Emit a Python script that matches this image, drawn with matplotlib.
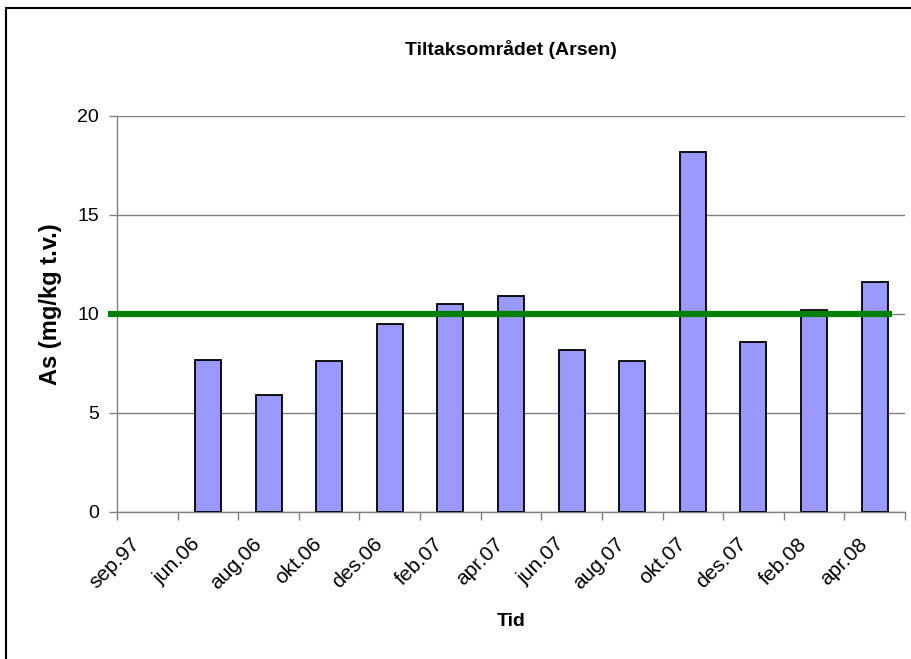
import numpy as np
import matplotlib
matplotlib.use('Agg')
from matplotlib import pyplot as plt
from matplotlib.patches import Rectangle
from matplotlib.transforms import ScaledTranslation

plt.rcParams['font.family'] = ['Liberation Sans', 'DejaVu Sans']

months = ['sep.97', 'jun.06', 'aug.06', 'okt.06', 'des.06', 'feb.07', 'apr.07',
          'jun.07', 'aug.07', 'okt.07', 'des.07', 'feb.08', 'apr.08']
arsen = [np.nan, 7.7, 5.9, 7.6, 9.5, 10.5, 10.9, 8.2, 7.6, 18.2, 8.6, 10.2, 11.6]
limit = 10
yticks = [0, 5, 10, 15, 20]

fig = plt.figure(figsize=(9.12, 6.59), dpi=100)
ax = fig.add_axes([0.1283, 0.2231, 0.8640, 0.6009])

x = np.arange(len(months))
ax.bar(x, arsen, width=0.43, color='#9999FF', edgecolor='black', linewidth=1.3, zorder=3)

# grenseverdi
ax.plot([-0.65, len(months) - 0.71], [limit, limit], color='#008000', linewidth=4.5,
        solid_capstyle='butt', clip_on=False, zorder=4)

ax.set_xlim(-0.5, len(months) - 0.5)
ax.set_ylim(0, 20)
ax.set_yticks(yticks)
ax.yaxis.grid(True, color='#808080', linewidth=1.0, zorder=0)

ax.set_xticks(x)
ax.set_xticklabels(months, rotation=45, ha='right', rotation_mode='anchor', fontsize=15)
ax.set_xticks(np.arange(len(months) + 1) - 0.5, minor=True)
ax.tick_params(axis='x', which='major', length=0, pad=16)
ax.tick_params(axis='x', which='minor', length=6, width=1, color='#808080', direction='out')
ax.tick_params(axis='y', length=6, width=1, color='#808080', labelsize=14, pad=7)
shift = ScaledTranslation(-0.17, 0, fig.dpi_scale_trans)
for lbl in ax.get_xticklabels():
    lbl.set_transform(lbl.get_transform() + shift)

for s in ['top', 'right']:
    ax.spines[s].set_visible(False)
for s in ['left', 'bottom']:
    ax.spines[s].set_color('#808080')
    ax.spines[s].set_linewidth(1.0)

ax.set_title('Tiltaksområdet (Arsen)', fontsize=14, fontweight='bold', pad=0, y=1.155)
ax.set_ylabel('As (mg/kg t.v.)', fontsize=17, fontweight='bold')
ax.yaxis.set_label_coords(-0.070, 0.525)
ax.set_xlabel('Tid', fontsize=14, fontweight='bold')
ax.xaxis.set_label_coords(0.5, -0.255)

# ramme rundt diagrammet
fig.patches.append(Rectangle((0.0066, -0.1), 1.2, 1.088, transform=fig.transFigure,
                             fill=False, edgecolor='black', linewidth=1.5))

plt.savefig('out.png', dpi=100)
